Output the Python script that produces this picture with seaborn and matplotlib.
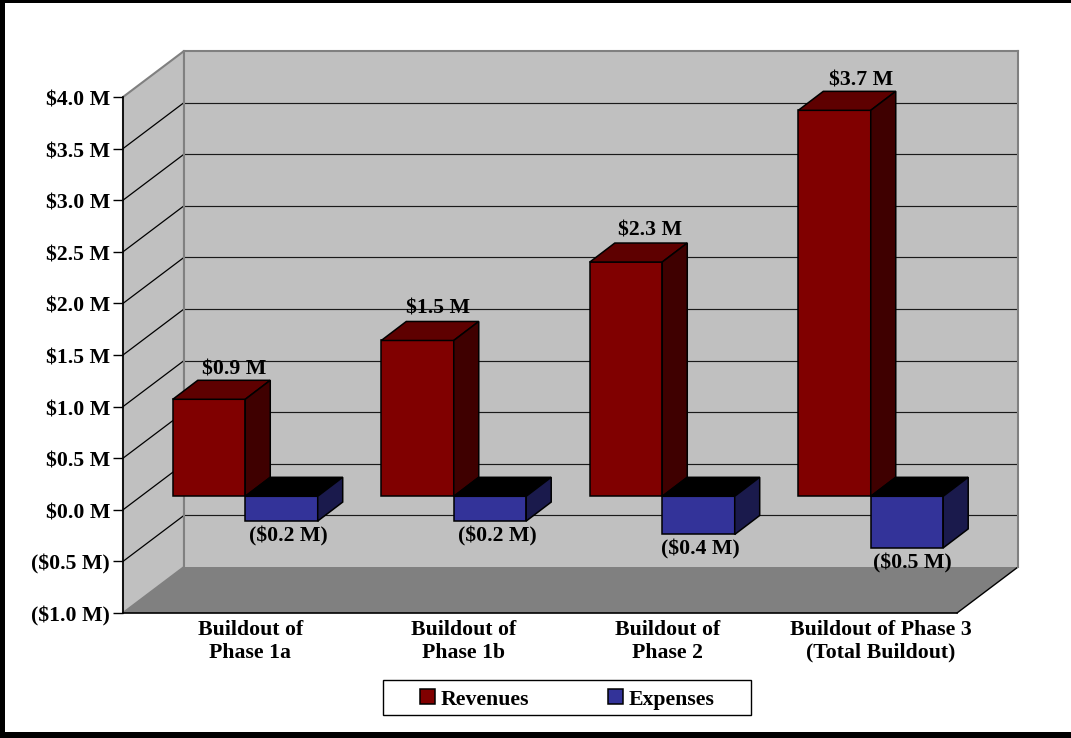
import pandas as pd
import matplotlib
matplotlib.use("Agg")
import matplotlib.pyplot as plt
import seaborn as sns
from matplotlib.patches import Polygon, Rectangle
from matplotlib.transforms import ScaledTranslation

# --- data ---
categories = ["Buildout of\nPhase 1a", "Buildout of\nPhase 1b", "Buildout of\nPhase 2",
              "Buildout of Phase 3\n(Total Buildout)"]
revenues = [0.94, 1.51, 2.27, 3.74]
expenses = [-0.24, -0.24, -0.37, -0.50]
y_ticks = [-1.0, -0.5, 0.0, 0.5, 1.0, 1.5, 2.0, 2.5, 3.0, 3.5, 4.0]
y_labels = ["($1.0 M)", "($0.5 M)", "$0.0 M", "$0.5 M", "$1.0 M", "$1.5 M",
            "$2.0 M", "$2.5 M", "$3.0 M", "$3.5 M", "$4.0 M"]
rev_labels = ["$0.9 M", "$1.5 M", "$2.3 M", "$3.7 M"]
exp_labels = ["($0.2 M)", "($0.2 M)", "($0.4 M)", "($0.5 M)"]

W, H = 1071, 738
FONT = "Liberation Serif"
FS = 15.7

sns.set_theme(style="white")
plt.rcParams["font.family"] = [FONT, "DejaVu Sans"]
plt.rcParams["font.weight"] = "bold"

fig = plt.figure(figsize=(W / 100, H / 100), dpi=100, facecolor="white")


def px_axes(left, top, right, bottom, zorder):
    # axes placed by pixel box of the reference
    a = fig.add_axes([left / W, 1 - bottom / H, (right - left) / W, (bottom - top) / H], zorder=zorder)
    a.patch.set_alpha(0)
    return a


# pixel canvas for frame, side wall, floor and legend box
bg = px_axes(0, 0, W, H, 0)
bg.set_xlim(0, W)
bg.set_ylim(H, 0)
bg.axis("off")
bg.add_patch(Rectangle((0, 0), 5, H, color="black", lw=0))
bg.add_patch(Rectangle((0, 0), W, 3, color="black", lw=0))
bg.add_patch(Rectangle((0, 732), W, 6, color="black", lw=0))
bg.add_patch(Rectangle((382.5, 679.5), 368.5, 35.5, facecolor="white", edgecolor="black", lw=1))

FX0, FX1, FY0, FY1 = 123, 957, 97, 613    # front plane
DX, DY = 61, 46                           # depth of the box

bg.add_patch(Polygon([(FX0, FY0), (FX0 + DX, FY0 - DY), (FX0 + DX, FY1 - DY), (FX0, FY1)],
                     facecolor="#C0C0C0", edgecolor="#808080", lw=1.5))
bg.add_patch(Polygon([(FX0, FY1), (FX0 + DX, FY1 - DY), (FX1 + DX, FY1 - DY), (FX1, FY1)],
                     facecolor="#808080", edgecolor="none"))
bg.plot([FX1, FX1 + DX], [FY1, FY1 - DY], color="black", lw=1)
px_per_unit = (FY1 - FY0) / 5
for t in y_ticks[1:-1]:
    yy = FY1 - (t + 1) * px_per_unit
    bg.plot([FX0, FX0 + DX], [yy, yy - DY], color="black", lw=0.9)

# back wall
back = px_axes(FX0 + DX, FY0 - DY, FX1 + DX, FY1 - DY, 1)
back.patch.set_alpha(1)
back.set_facecolor("#C0C0C0")
back.set_ylim(-1, 4)
back.set_xticks([])
back.set_yticks([])
for t in y_ticks[1:-1]:
    back.axhline(t, color="#1a1a1a", lw=0.85)
for s in back.spines.values():
    s.set_color("#808080")
    s.set_linewidth(1.5)
back.spines["bottom"].set_visible(False)

# front plane, carries the value axis
front = px_axes(FX0, FY0, FX1, FY1, 2)
front.set_xlim(-0.5, 3.5)
front.set_ylim(-1, 4)
front.set_xticks([])
front.set_yticks(y_ticks)
front.set_yticklabels(y_labels, fontsize=FS, fontweight="bold", color="black")
front.tick_params(axis="y", length=7.2, width=1, color="black", pad=2, left=True)
for lab in front.get_yticklabels():
    lab.set_transform(lab.get_transform() + ScaledTranslation(0, -1 / 100, fig.dpi_scale_trans))
front.spines[["top", "right"]].set_visible(False)
for s in ("left", "bottom"):
    front.spines[s].set_color("black")
    front.spines[s].set_linewidth(1.2)

# bars stand a bit inside the box
BAR_X, BAR_Y = 18, 13.5
ax = px_axes(FX0 + BAR_X, FY0 - BAR_Y, FX1 + BAR_X, FY1 - BAR_Y, 3)

df = pd.DataFrame({
    "phase": categories * 2,
    "value": revenues + expenses,
    "kind": ["Revenues"] * 4 + ["Expenses"] * 4,
})
sns.barplot(data=df, x="phase", y="value", hue="kind", ax=ax, width=0.695, gap=0,
            palette={"Revenues": "#800000", "Expenses": "#333399"},
            edgecolor="black", linewidth=1.1, saturation=1, errorbar=None)
ax.set_xlim(-0.5, 3.5)
ax.set_ylim(-1, 4)
ax.set_xlabel("")
ax.set_ylabel("")
ax.set_yticks([])
for s in ax.spines.values():
    s.set_visible(False)

# category labels, tuned per label like in the original
ax.set_xticks(range(4))
ax.set_xticklabels(categories, fontsize=FS, fontweight="bold", color="black", linespacing=1.16)
ax.tick_params(axis="x", length=0, pad=15, bottom=False)
label_shift = [5, 10, 5, 10]
for lab, sh in zip(ax.get_xticklabels(), label_shift):
    lab.set_transform(lab.get_transform() + ScaledTranslation(sh / 100, 0, fig.dpi_scale_trans))

# 3d faces built from the seaborn bars
d_x = 25 / ((FX1 - FX0) / 4)
d_y = 19 / px_per_unit
colors = {"#800000": ("#5E0000", "#3F0000"), "#333399": ("#000000", "#1A1A4C")}
rev_nudge = [(0, 8), (-3, 9), (-1, 9), (1, 8)]
exp_nudge = [(5, -11), (5, -11), (1.5, -11), (4, -11.5)]
bars = [p for p in ax.patches if p.get_width() > 0]
for i, bar in enumerate(bars):
    x0, w, h = bar.get_x(), bar.get_width(), bar.get_height()
    x1 = x0 + w
    top_col, side_col = colors["#800000"] if h > 0 else colors["#333399"]
    ytop = max(h, 0)
    ybot = min(h, 0)
    ax.add_patch(Polygon([(x0, ytop), (x0 + d_x, ytop + d_y), (x1 + d_x, ytop + d_y), (x1, ytop)],
                         facecolor=top_col, edgecolor="black", lw=1.1, clip_on=False))
    ax.add_patch(Polygon([(x1, ytop), (x1 + d_x, ytop + d_y), (x1 + d_x, ybot + d_y), (x1, ybot)],
                         facecolor=side_col, edgecolor="black", lw=1.1, clip_on=False))
    cx = x0 + w / 2
    if h > 0:
        ax.annotate(rev_labels[i], (cx + d_x, ytop + d_y), xytext=rev_nudge[i], textcoords="offset points",
                    ha="center", va="center", fontsize=FS, fontweight="bold", color="black")
    else:
        ax.annotate(exp_labels[i - 4], (cx, ybot), xytext=exp_nudge[i - 4], textcoords="offset points",
                    ha="center", va="center", fontsize=FS, fontweight="bold", color="black")

sns.move_legend(ax, "center", bbox_to_anchor=(567.5 / W, 1 - 699.5 / H), bbox_transform=fig.transFigure,
                ncol=2, title=None, frameon=False, labelcolor="black",
                fontsize=FS, handlelength=0.67, handleheight=0.67, handletextpad=0.28, columnspacing=3.6,
                borderpad=0, borderaxespad=0)

fig.savefig("out.png", dpi=100)
plt.close(fig)
